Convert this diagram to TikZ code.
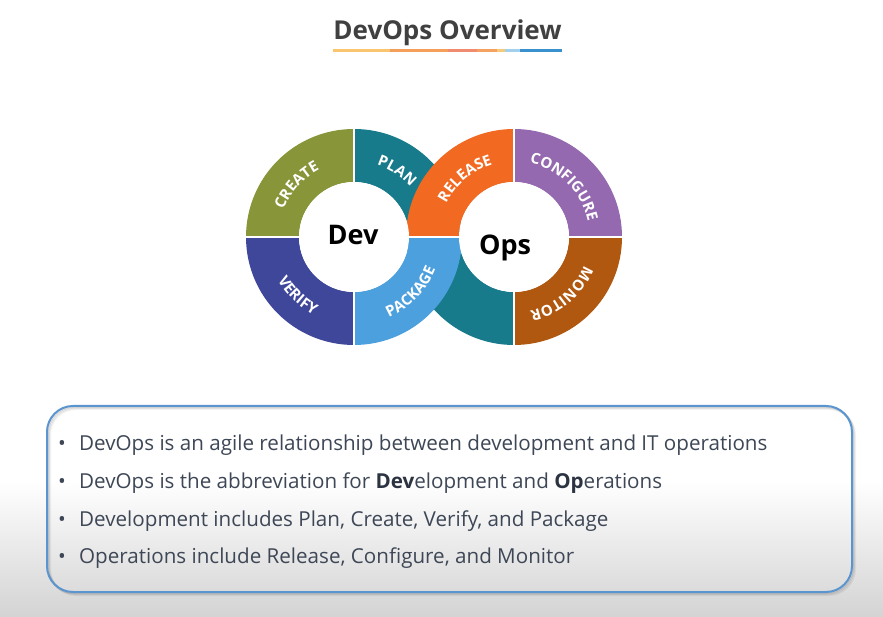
\documentclass[tikz,border=0pt]{standalone}
\usepackage{fontspec}
\setmainfont{Open Sans}
\newfontfamily\lblfont{Open Sans}[LetterSpace=4]
\usetikzlibrary{decorations.text}

\definecolor{createc}{HTML}{889538}
\definecolor{planc}{HTML}{177B8C}
\definecolor{verifyc}{HTML}{3F479B}
\definecolor{packagec}{HTML}{4DA0DE}
\definecolor{releasec}{HTML}{F26A22}
\definecolor{configc}{HTML}{9569AF}
\definecolor{monitorc}{HTML}{B0580F}
\definecolor{titlec}{HTML}{404040}
\definecolor{bodyc}{HTML}{3E4756}
\definecolor{boldc}{HTML}{2C3442}
\definecolor{boxc}{HTML}{5B95D0}

% ring geometry
\def\Ro{108}
\def\Ri{55}

% one coloured sector of a ring: centre, start angle, end angle, colour
\newcommand{\ringseg}[4]{%
  \fill[#4] ([shift={(#2:\Ro)}]#1) arc[start angle=#2, end angle=#3, radius=\Ro]
    -- ([shift={(#3:\Ri)}]#1) arc[start angle=#3, end angle=#2, radius=\Ri] -- cycle;}
% white gap between two sectors
\newcommand{\ringgap}[2]{%
  \draw[white, line width=2.2pt] ([shift={(#2:\Ri-2)}]#1) -- ([shift={(#2:\Ro+2)}]#1);}
% label running clockwise, letters upright towards the outside
\newcommand{\cwlabel}[3]{%
  \path[decorate, decoration={text along path, text align=center, text color=white,
      text={|\lblfont\bfseries\fontsize{15}{15}\selectfont|#3}}]
    ([shift={(#2+55:75.5)}]#1) arc[start angle=#2+55, end angle=#2-55, radius=75.5];}
% label running counter-clockwise, letters upright towards the centre
\newcommand{\ccwlabel}[3]{%
  \path[decorate, decoration={text along path, text align=center, text color=white,
      text={|\lblfont\bfseries\fontsize{15}{15}\selectfont|#3}}]
    ([shift={(#2-55:87.5)}]#1) arc[start angle=#2-55, end angle=#2+55, radius=87.5];}

\tikzset{
  bodytext/.style={anchor=base west, inner sep=0pt, text=bodyc, font=\fontsize{20.6}{20.6}\selectfont},
  bullet/.style={anchor=base west, inner sep=0pt, text=bodyc, font=\fontsize{20.6}{20.6}\selectfont},
  hubtext/.style={inner sep=0pt, font=\bfseries\fontsize{27}{27}\selectfont, text=black},
}

\begin{document}
\begin{tikzpicture}[x=1pt, y=1pt]
\useasboundingbox (0,0) rectangle (883,616);
\fill[white] (0,0) rectangle (883,616);
% soft grey towards the bottom edge
\shade[top color=white, bottom color=black!17] (0,0) rectangle (883,135);

% title with its multicoloured rule
\node[anchor=base, inner sep=0pt, text=titlec, font=\bfseries\fontsize{26}{26}\selectfont] (title) at (447.5,576) {DevOps Overview};
\begin{scope}[line width=3pt]
  \draw[color={rgb,255:red,250;green,197;blue,110}] (333,565) -- (390,565);
  \draw[color={rgb,255:red,245;green,158;blue,92}] (390,565) -- (448,565);
  \draw[color={rgb,255:red,241;green,139;blue,112}] (448,565) -- (477,565);
  \draw[color={rgb,255:red,245;green,162;blue,96}] (477,565) -- (497,565);
  \draw[color={rgb,255:red,249;green,200;blue,120}] (497,565) -- (505,565);
  \draw[color={rgb,255:red,160;green,208;blue,238}] (505,565) -- (520,565);
  \draw[color={rgb,255:red,58;green,143;blue,205}] (520,565) -- (562,565);
\end{scope}

% the two rings of the loop
\coordinate (dev) at (354,379);
\coordinate (ops) at (514,379);

\ringseg{ops}{180}{270}{planc}
\ringseg{dev}{0}{90}{planc}
\ringseg{dev}{90}{180}{createc}
\ringseg{dev}{180}{270}{verifyc}
\ringseg{dev}{270}{360}{packagec}
\ringseg{ops}{90}{180}{releasec}
\ringseg{ops}{0}{90}{configc}
\ringseg{ops}{270}{360}{monitorc}

\ringgap{dev}{90}
\ringgap{dev}{180}
\ringgap{dev}{270}
\ringgap{ops}{90}
\ringgap{ops}{0}
\ringgap{ops}{270}
\draw[white, line width=1.6pt] ([shift={(180:\Ri)}]ops) -- ([shift={(180:\Ro-1)}]ops);

\fill[white] (dev) circle[radius=\Ri];
\fill[white] (ops) circle[radius=\Ri];

\cwlabel{dev}{138}{CREATE}
\cwlabel{dev}{57}{PLAN}
\ccwlabel{dev}{226}{VERIFY}
\ccwlabel{dev}{-44}{PACKAGE}
\cwlabel{ops}{130}{RELEASE}
\cwlabel{ops}{45}{CONFIGURE}
\cwlabel{ops}{-50}{MONITOR}

\node[hubtext] (devhub) at (353,381) {Dev};
\node[hubtext] (opshub) at (505,368) {Ops};

% summary box with a soft shadow
\foreach \k/\o in {1/0.10, 2/0.07, 3/0.05}
  \draw[black, opacity=\o, line width=2pt, rounded corners=26pt] (47+\k,24-\k) rectangle (852+\k,210-\k);
\draw[boxc, line width=2pt, rounded corners=26pt] (47,24) rectangle (852,210);

\node[bullet] (d1) at (58,165) {•};
\node[bodytext] (t1) at (79,165) {DevOps is an agile relationship between development and IT operations};
\node[bullet] (d2) at (58,128) {•};
\node[bodytext] (t2) at (79,128) {DevOps is the abbreviation for \textcolor{boldc}{\bfseries Dev}elopment and \textcolor{boldc}{\bfseries Op}erations};
\node[bullet] (d3) at (58,90) {•};
\node[bodytext] (t3) at (79,90) {Development includes Plan, Create, Verify, and Package};
\node[bullet] (d4) at (58,53) {•};
\node[bodytext] (t4) at (79,53) {Operations include Release, Configure, and Monitor};
\end{tikzpicture}
\end{document}
